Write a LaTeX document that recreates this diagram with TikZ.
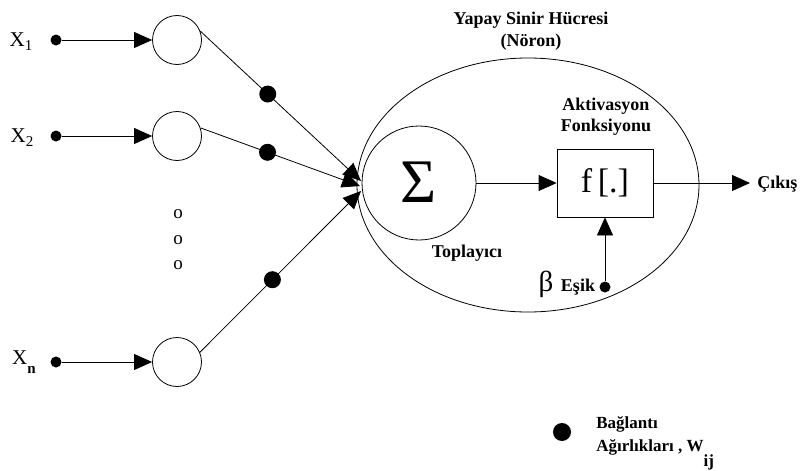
\documentclass[tikz,border=0pt]{standalone}
\usepackage{fontspec}
\setmainfont{Liberation Serif}
\usetikzlibrary{arrows.meta,shapes.geometric}
\begin{document}
\begin{tikzpicture}[x=1pt,y=-1pt,
  line width=0.8pt,
  tri/.style={-{Triangle[length=18pt,width=16pt]}},
  inpdot/.style={circle,fill=black,inner sep=0pt,minimum size=11pt},
  wdot/.style={circle,fill=black,inner sep=0pt,minimum size=17pt},
  neuron/.style={circle,draw,inner sep=0pt,minimum size=49pt},
  lbl/.style={font=\fontsize{18}{21}\selectfont\bfseries,inner sep=0pt},
  xlbl/.style={font=\fontsize{21}{22}\selectfont,inner sep=0pt},
  dotsym/.style={font=\fontsize{19}{19}\selectfont,inner sep=0pt}]
\useasboundingbox (0,0) rectangle (807,471);

% inputs
\node[xlbl] (lx1) at (21,42) {X\raisebox{-4pt}{\fontsize{15}{15}\selectfont 1}};
\node[xlbl] (lx2) at (22,138) {X\raisebox{-4pt}{\fontsize{15}{15}\selectfont 2}};
\node[xlbl] (lxn) at (24,362) {X\raisebox{-9pt}{\fontsize{15}{15}\selectfont\bfseries n}};
\node[inpdot] (d1) at (56,40) {};
\node[inpdot] (d2) at (56,136) {};
\node[inpdot] (dn) at (56,362) {};
\node[neuron] (n1) at (177,40) {};
\node[neuron] (n2) at (177,136) {};
\node[neuron] (nn) at (177,362) {};
\draw[tri] (d1) -- (n1);
\draw[tri] (d2) -- (n2);
\draw[tri] (dn) -- (nn);

% ellipsis between inputs
\node[dotsym] (o1) at (178,214) {o};
\node[dotsym] (o2) at (178,240) {o};
\node[dotsym] (o3) at (178,265) {o};

% neuron body
\node[draw,ellipse,minimum width=342pt,minimum height=254pt,inner sep=0pt] (cell) at (528,185) {};
\node[circle,draw,minimum size=114pt,inner sep=0pt] (sum) at (419,183) {\raisebox{2pt}{\fontsize{62}{62}\selectfont Σ}};
\node[draw,minimum width=96pt,minimum height=68pt,inner sep=0pt] (act) at (605,183) {\fontsize{34}{34}\selectfont f\,[.]};

% weighted connections
\coordinate (t1) at (361,181);
\coordinate (t2) at (360,186);
\coordinate (tn) at (361,191);
\draw[tri] (n1.21) -- node[wdot,pos=0.42] (w1) {} (t1);
\draw[tri] (n2.19) -- node[wdot,pos=0.42] (w2) {} (t2);
\draw[tri] (nn.23) -- node[wdot,pos=0.45] (wn) {} (tn);

% summation to activation to output
\draw[tri] (sum) -- (act);
\coordinate (out) at (750,183);
\draw[tri] (act) -- (out);
\node[lbl,anchor=west] (cikis) at (757,184) {Çıkış};

% threshold
\node[inpdot] (th) at (605,287) {};
\draw[tri] (th) -- (act);
\node[font=\fontsize{29}{29}\selectfont,inner sep=0pt] (beta) at (546,284) {β};
\node[lbl] (esik) at (578,287) {Eşik};

% labels
\node[lbl] (topl) at (467,253) {Toplayıcı};
\node[lbl,align=center] (aktl) at (606,117) {Aktivasyon\\Fonksiyonu};
\node[lbl,align=center,font=\fontsize{18}{22}\selectfont\bfseries] (title) at (531,31) {Yapay Sinir Hücresi\\(Nöron)};

% legend
\node[wdot,minimum size=18pt] (leg) at (562,432) {};
\node[lbl,anchor=north west,align=left,font=\fontsize{17}{23}\selectfont\bfseries] (legtxt) at (596,416)
  {Bağlantı\\Ağırlıkları , W\raisebox{-15pt}{ij}};
\end{tikzpicture}
\end{document}
